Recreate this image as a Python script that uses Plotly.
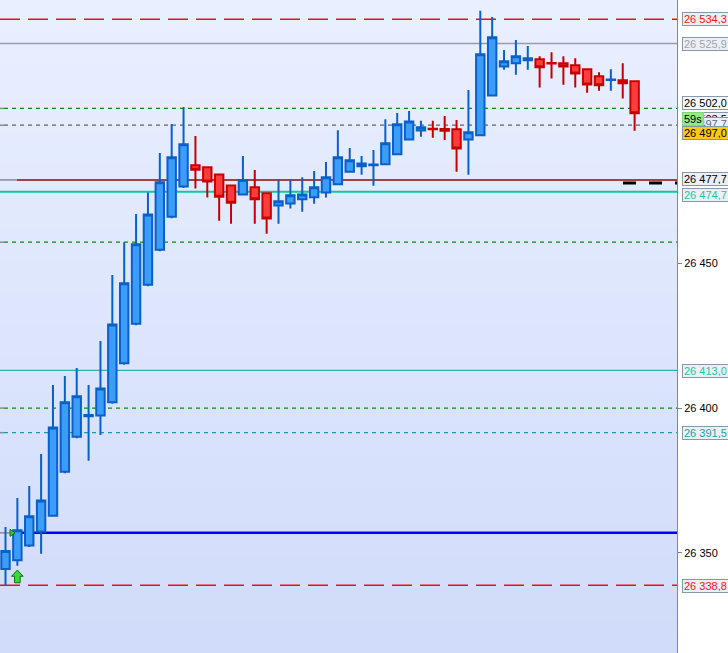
import plotly.graph_objects as go

# ---------------- data ----------------
opens = [26344.4, 26347.4, 26352.5, 26357.3, 26362.8, 26378.0, 26390.1, 26397.2, 26397.4, 26402.0,
         26415.5, 26429.1, 26442.6, 26454.7, 26466.1, 26476.5, 26483.9, 26483.2, 26480.7, 26476.9,
         26473.8, 26476.3, 26474.2, 26470.0, 26470.7, 26472.1, 26472.8, 26474.5, 26477.3, 26481.6,
         26483.5, 26483.9, 26484.2, 26487.7, 26492.8, 26495.9, 26496.5, 26496.4, 26496.3, 26492.8,
         26494.2, 26508.0, 26518.0, 26519.1, 26520.1, 26520.5, 26519.2, 26519.1, 26518.4, 26517.0,
         26514.6, 26513.3, 26513.2, 26512.9]
highs = [26358.9, 26368.9, 26373.1, 26384.1, 26408.0, 26411.1, 26413.8, 26408.0, 26423.2, 26446.0,
         26457.3, 26467.0, 26474.5, 26488.1, 26498.1, 26504.0, 26494.0, 26483.5, 26481.0, 26477.2,
         26487.1, 26482.2, 26474.5, 26478.9, 26478.9, 26479.7, 26481.9, 26485.0, 26496.0, 26489.8,
         26487.1, 26489.1, 26499.8, 26501.9, 26502.6, 26499.2, 26499.2, 26500.9, 26499.5, 26509.9,
         26537.2, 26535.1, 26523.7, 26527.1, 26525.1, 26521.5, 26522.9, 26521.5, 26520.8, 26517.3,
         26516.0, 26517.0, 26519.1, 26513.2]
lows = [26338.5, 26345.5, 26352.0, 26349.7, 26362.5, 26377.5, 26389.6, 26381.8, 26390.7, 26401.5,
        26415.0, 26428.6, 26442.1, 26454.2, 26465.6, 26476.0, 26475.8, 26472.7, 26464.7, 26463.7,
        26473.5, 26463.7, 26460.2, 26463.7, 26468.9, 26467.8, 26470.6, 26472.7, 26477.0, 26481.3,
        26480.6, 26476.8, 26483.9, 26487.4, 26492.5, 26493.7, 26493.4, 26492.6, 26481.6, 26480.6,
        26493.9, 26507.7, 26516.9, 26515.1, 26516.9, 26510.7, 26513.8, 26511.7, 26510.7, 26508.9,
        26509.6, 26509.6, 26506.9, 26495.8]
closes = [26350.6, 26357.8, 26362.6, 26368.1, 26393.3, 26402.0, 26404.1, 26397.6, 26406.8, 26428.9,
          26443.1, 26456.6, 26466.9, 26478.0, 26486.6, 26491.1, 26482.3, 26478.3, 26473.0, 26470.9,
          26478.8, 26472.1, 26465.5, 26471.4, 26473.5, 26473.8, 26476.3, 26479.7, 26486.6, 26485.6,
          26484.5, 26484.1, 26491.5, 26498.0, 26499.0, 26497.0, 26496.3, 26495.8, 26489.7, 26495.3,
          26522.2, 26528.1, 26519.8, 26521.5, 26520.8, 26517.7, 26519.0, 26518.0, 26515.6, 26511.8,
          26511.5, 26513.5, 26512.2, 26501.8]
# candle colour per bar: 'u' blue, 'd' red
directions = list("uuuuuuuuuuuuuuuu" "dddd" "u" "dd" "uuuuuuuuuuuuu" "ddd" "uuuuuu" "dddddd" "u" "dd")

# horizontal levels
level_prices = [26534.3, 26525.9, 26503.5, 26497.7, 26478.8, 26474.7, 26457.3, 26413.0, 26400.0, 26391.5, 26356.9, 26338.8]
level_colors = ["#e81010", "#9a9aa8", "#0a8a0a", "#606070", "#8b0a0a", "#10c8a0", "#0a8a0a", "#20b8a8", "#0a8a0a", "#10a0a0", "#0000ff", "#e81010"]
level_widths = [1.5, 1.5, 1.3, 1.3, 1.5, 2, 1.3, 1.3, 1.3, 1.3, 2.5, 1.5]
level_dashes = ["20px,8px", "solid", "4px,4px", "4px,4px", "solid", "solid", "4px,4px", "solid", "4px,4px", "4px,4px", "solid", "20px,8px"]
level_start = [0, 0, 4, 4, 17, 0, 4, 0, 4, 4, 16, 0]
future_dash_price = 26477.7

# right-hand price labels
label_texts = ["26 534,3", "26 525,9", "26 502,0", "26 503,5", "26 497,7", "59s", "26 497,0", "26 477,7", "26 474,7", "26 413,0", "26 391,5", "26 338,8"]
label_prices = [26534.3, 26525.9, 26502.0, 26503.5, 26497.7, 26497.0, 26497.0, 26477.7, 26474.7, 26413.0, 26391.5, 26338.8]
label_shift = [0, 0, 9.5, -11, 1, 8.5, -6, 3.7, -3.3, -1, 0, -1]
label_fg = ["#ff1010", "#a0a4ae", "#000000", "#000000", "#666677", "#000000", "#000000", "#000000", "#18c8a0", "#18c8a0", "#10a8a8", "#ff1010"]
label_bg = ["#eceff5", "#eceff5", "#f6f8fb", "#eceff5", "#eceff5", "#90ea90", "#ffc814", "#eceff5", "#eceff5", "#eceff5", "#eceff5", "#eceff5"]

tick_vals = [26350, 26400, 26450]
tick_text = ["26 350", "26 400", "26 450"]

signal_x = [1]
signal_y = [26341.8]

# ---------------- figure ----------------
W, H = 728, 653
PLOT_W = 677
SPACING = 11.87
X0 = -5.5 / SPACING
X1 = (PLOT_W - 5.5) / SPACING
Y_MIN, Y_MAX = 26315.4, 26540.95

fig = go.Figure()

def add_candles(dirkey, fill, line):
    idx = [i for i, d in enumerate(directions) if d == dirkey]
    fig.add_trace(go.Candlestick(
        x=idx,
        open=[opens[i] for i in idx], high=[highs[i] for i in idx],
        low=[lows[i] for i in idx], close=[closes[i] for i in idx],
        increasing=dict(fillcolor=fill, line=dict(color=line, width=2)),
        decreasing=dict(fillcolor=fill, line=dict(color=line, width=2)),
        whiskerwidth=0, hoverinfo="skip", showlegend=False))

add_candles("u", "#3c9df8", "#0b5fc8")
add_candles("d", "#ff3c3c", "#c80000")

shapes = []
top = (233, 239, 255)
bot = (209, 220, 250)
NB = 40
for k in range(NB):
    t = k / (NB - 1)
    c = tuple(round(top[j] + (bot[j] - top[j]) * t) for j in range(3))
    shapes.append(dict(type="rect", xref="paper", yref="paper", x0=0, x1=1,
                       y0=1 - (k + 1) / NB, y1=1 - k / NB + 0.001,
                       fillcolor="rgb(%d,%d,%d)" % c, line=dict(width=0), layer="below"))

for p, col, w, dsh, st in zip(level_prices, level_colors, level_widths, level_dashes, level_start):
    if st > 0:
        shapes.append(dict(type="line", xref="paper", yref="y", x0=0, x1=st / PLOT_W, y0=p, y1=p,
                           line=dict(color="#8a8a96", width=1.5), layer="below"))
    shapes.append(dict(type="line", xref="paper", yref="y", x0=st / PLOT_W, x1=1, y0=p, y1=p,
                       line=dict(color=col, width=w, dash=dsh), layer="below"))

shapes.append(dict(type="line", xref="paper", yref="y", x0=623 / PLOT_W, x1=1,
                   y0=future_dash_price, y1=future_dash_price,
                   line=dict(color="#000000", width=3, dash="13px,13px"), layer="above"))

shapes.append(dict(type="path", xref="x", yref="y", xsizemode="pixel", ysizemode="pixel",
                   xanchor=(12 - 5.5) / SPACING, yanchor=level_prices[10],
                   path="M-2,3.5 L3,0 L-2,-3.5 Z", fillcolor="#30d030",
                   line=dict(color="#107010", width=1), layer="above"))

for sx, sy in zip(signal_x, signal_y):
    shapes.append(dict(type="path", xref="x", yref="y", xsizemode="pixel", ysizemode="pixel",
                       xanchor=sx, yanchor=sy,
                       path="M0,6.5 L5.8,0.3 L2.8,0.3 L2.8,-6.2 L-2.8,-6.2 L-2.8,0.3 L-5.8,0.3 Z",
                       fillcolor="#38dc38", line=dict(color="#0a700a", width=1), layer="above"))

annotations = []
for txt, p, sh, fg, bg in zip(label_texts, label_prices, label_shift, label_fg, label_bg):
    annotations.append(dict(
        xref="paper", yref="y", x=682.3 / PLOT_W, y=p, yshift=sh,
        xanchor="left", yanchor="middle", text=txt, showarrow=False,
        font=dict(family="Liberation Sans", size=11, color=fg),
        bgcolor=bg, bordercolor="#7fd87f" if txt == "59s" else "#8898a8",
        borderwidth=1, borderpad=1, height=10, align="left"))

fig.update_layout(
    width=W, height=H,
    margin=dict(l=0, r=W - PLOT_W, t=0, b=0, autoexpand=False),
    paper_bgcolor="#ffffff", plot_bgcolor="#e4eafd",
    boxgap=0.29, boxgroupgap=0,
    shapes=shapes, annotations=annotations,
    showlegend=False, hovermode=False,
    xaxis=dict(range=[X0, X1], visible=False, rangeslider=dict(visible=False), fixedrange=True),
    yaxis=dict(range=[Y_MIN, Y_MAX], side="right", showgrid=False, zeroline=False,
               tickmode="array", tickvals=tick_vals, ticktext=tick_text,
               ticks="outside", ticklen=4, tickcolor="#7b8898", tickwidth=1,
               showline=True, linecolor="#7b8898", linewidth=1,
               tickfont=dict(family="Liberation Sans", size=11, color="#000000"),
               fixedrange=True),
)

fig.write_html("out.html", config={"displayModeBar": False},
               post_script="document.body.style.margin='0';document.body.style.padding='0';")
